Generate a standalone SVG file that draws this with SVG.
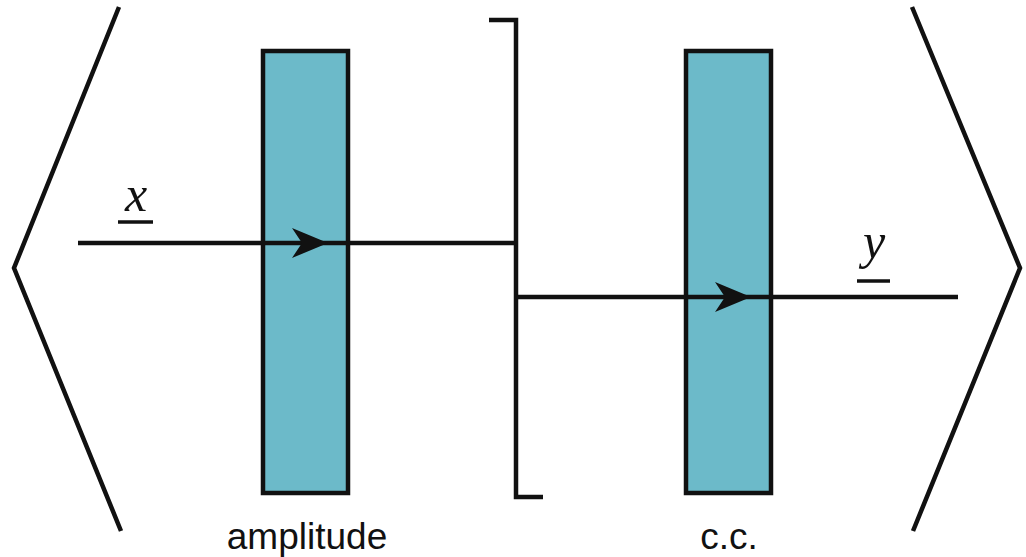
<svg xmlns="http://www.w3.org/2000/svg" width="1026" height="557" viewBox="0 0 1026 557">
<style>
.ln{stroke:#111;stroke-width:4.5;fill:none}
.bx{fill:#6cbac9;stroke:#111;stroke-width:4.5}
.lbl{font-family:"Liberation Sans",Arial,sans-serif;font-size:37px;fill:#111;text-anchor:middle}
.var{font-family:"Liberation Serif","DejaVu Serif",serif;font-style:italic;font-size:50px;fill:#111;text-anchor:middle}
.ah{fill:#111}
</style>
<rect width="1026" height="557" fill="#fff"/>
<g id="left-chevron"><polyline class="ln" points="119,7 14,268 121,531"/></g>
<g id="right-chevron"><polyline class="ln" points="912,7 1020,268 913,531"/></g>
<g id="amplitude">
<rect class="bx" x="263" y="51" width="85" height="442"/>
<text class="lbl" x="307" y="549">amplitude</text>
</g>
<g id="cc">
<rect class="bx" x="686" y="51" width="85" height="442"/>
<text class="lbl" x="729" y="549">c.c.</text>
</g>
<g id="bracket"><polyline class="ln" points="489,20 516,20 516,497 543,497"/></g>
<g id="connectors">
<line class="ln" x1="78" y1="243" x2="516" y2="243"/>
<path class="ah" d="M328,243 L292,228 L302,243 L292,258 Z"/>
<line class="ln" x1="516" y1="297" x2="958" y2="297"/>
<path class="ah" d="M751,297 L715,282 L725,297 L715,312 Z"/>
</g>
<g id="label-x">
<text class="var" x="136" y="211">x</text>
<line class="ln" x1="118" y1="222" x2="153" y2="222" style="stroke-width:3.5"/>
</g>
<g id="label-y">
<text class="var" x="874" y="258">y</text>
<line class="ln" x1="857" y1="281" x2="890" y2="281" style="stroke-width:3.5"/>
</g>
</svg>
